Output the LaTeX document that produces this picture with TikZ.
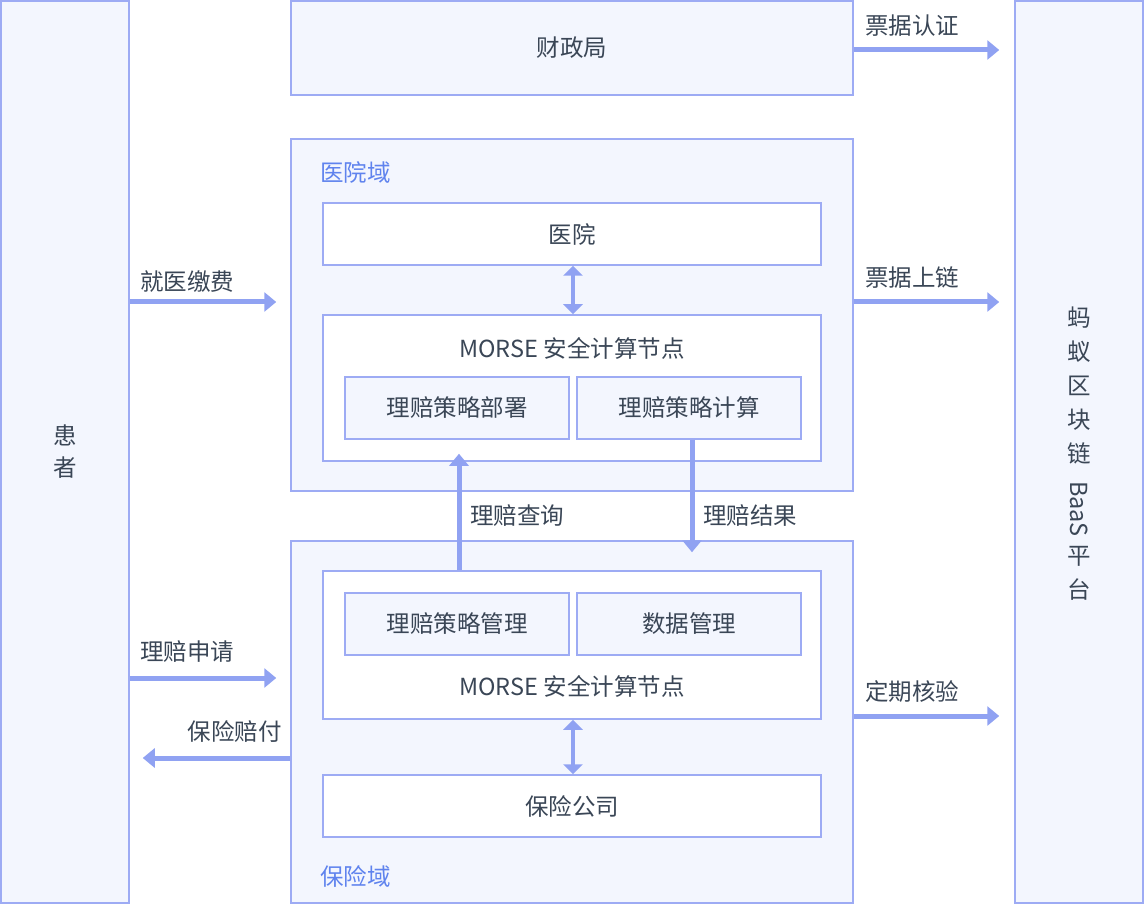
\documentclass[tikz,border=0pt]{standalone}
\usepackage{fontspec}
\setmainfont{Noto Sans CJK SC}
\usetikzlibrary{arrows.meta,calc,positioning}
\definecolor{edge}{HTML}{9DABF4}
\definecolor{pale}{HTML}{F3F6FE}
\definecolor{ink}{HTML}{3A4656}
\definecolor{flowc}{HTML}{90A2F2}
\definecolor{domc}{HTML}{5F83EE}
\tikzset{
 box/.style={draw=edge,line width=1.5pt,inner sep=0pt,text=ink},
 panel/.style={box,fill=pale},
 card/.style={box,fill=white},
 flow/.style={draw=flowc,line width=5pt,-{Triangle[width=19pt,length=12pt]}},
 both/.style={draw=flowc,line width=4pt,{Triangle[width=19pt,length=10pt]}-{Triangle[width=19pt,length=10pt]}},
 tag/.style={text=ink,inner sep=0pt},
 dom/.style={text=domc,inner sep=0pt,anchor=west}
}
\begin{document}
\begin{tikzpicture}[x=1pt,y=-1pt,font=\fontsize{23.5}{34}\selectfont]
\useasboundingbox (0,0) rectangle (1144,904);
% side panels
\node[panel,minimum width=128pt,minimum height=902pt,align=center] (patient) at (65,452) {患\\[-2pt]者};
\node[panel,minimum width=128pt,minimum height=902pt] (baas) at (1079,452) {};
\node[tag,align=center] (baasA) at (1079,386) {蚂\\蚁\\区\\块\\链};
\node[tag,rotate=-90] (baasB) at (1079,509) {BaaS};
\node[tag,align=center] (baasC) at (1079,573) {平\\台};
% middle column
\node[panel,minimum width=562pt,minimum height=94pt] (finance) at (572,48) {财政局};
\node[panel,minimum width=562pt,minimum height=352pt] (hospdom) at (572,315) {};
\node[dom] at (320,172) {医院域};
\node[card,minimum width=498pt,minimum height=62pt] (hospital) at (572,234) {医院};
\node[card,minimum width=498pt,minimum height=146pt] (morseA) at (572,388) {};
\node[tag] at (572,348) {MORSE\ 安全计算节点};
\node[panel,minimum width=224pt,minimum height=62pt] (deploy) at (457,408) {理赔策略部署};
\node[panel,minimum width=224pt,minimum height=62pt] (compute) at (689,408) {理赔策略计算};
\node[panel,minimum width=562pt,minimum height=362pt] (insdom) at (572,722) {};
\node[dom] at (320,876) {保险域};
\node[card,minimum width=498pt,minimum height=148pt] (morseB) at (572,645) {};
\node[tag] at (572,686) {MORSE\ 安全计算节点};
\node[panel,minimum width=224pt,minimum height=62pt] (manage) at (457,624) {理赔策略管理};
\node[panel,minimum width=224pt,minimum height=62pt] (datamgr) at (689,624) {数据管理};
\node[card,minimum width=498pt,minimum height=62pt] (insurer) at (572,806) {保险公司};
% rows and columns of the flows
\coordinate (rowF) at (0,50);
\coordinate (rowA) at (0,302);
\coordinate (rowB) at (0,678);
\coordinate (rowC) at (0,758);
\coordinate (rowD) at (0,716);
\coordinate (colQ) at (459,0);
\coordinate (colR) at (692,0);
\coordinate (colM) at (573,0);
% flows
\draw[flow,shorten >=15pt] (finance.east |- rowF) -- (baas.west |- rowF);
\node[tag,anchor=west] at (865,26) {票据认证};
\draw[flow,shorten >=14pt] (patient.east |- rowA) -- (hospdom.west |- rowA);
\node[tag,anchor=west] at (140,282) {就医缴费};
\draw[flow,shorten >=15pt] (hospdom.east |- rowA) -- (baas.west |- rowA);
\node[tag,anchor=west] at (865,278) {票据上链};
\draw[flow,shorten >=14pt] (patient.east |- rowB) -- (insdom.west |- rowB);
\node[tag,anchor=west] at (140,652) {理赔申请};
\draw[flow,shorten >=13pt] (insdom.west |- rowC) -- (patient.east |- rowC);
\node[tag,anchor=east] at (282,732) {保险赔付};
\draw[flow,shorten >=15pt] (insdom.east |- rowD) -- (baas.west |- rowD);
\node[tag,anchor=west] at (865,692) {定期核验};
\draw[flow,shorten >=14pt] (morseB.north -| colQ) -- (deploy.south -| colQ);
\node[tag,anchor=west] at (470,516) {理赔查询};
\draw[flow,shorten >=18pt] (compute.south -| colR) -- (morseB.north -| colR);
\node[tag,anchor=west] at (703,516) {理赔结果};
\draw[both] (hospital.south -| colM) -- (morseA.north -| colM);
\draw[both] (morseB.south -| colM) -- (insurer.north -| colM);
\end{tikzpicture}
\end{document}
